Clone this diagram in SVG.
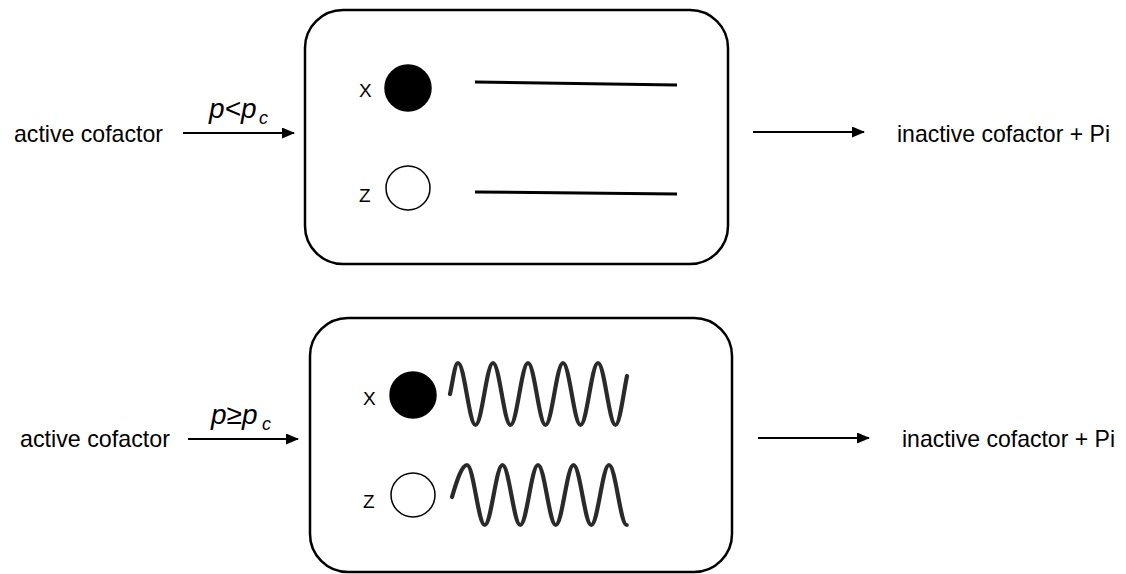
<svg xmlns="http://www.w3.org/2000/svg" width="1126" height="574" viewBox="0 0 1126 574">
<style>
.t{font-family:"Liberation Sans",Arial,sans-serif;font-size:24px;fill:#000}
.lb{font-family:"Liberation Sans",Arial,sans-serif;font-size:19px;fill:#000}
.m{font-family:"Liberation Sans",Arial,sans-serif;font-style:italic;font-size:28px;fill:#000}
.ms{font-family:"Liberation Sans",Arial,sans-serif;font-style:italic;font-size:18px;fill:#000}
.box{fill:#fff;stroke:#000;stroke-width:2.5}
.ar{stroke:#000;stroke-width:2;fill:none;marker-end:url(#ah)}
.wave{fill:none;stroke:#2a2a2a;stroke-width:4.2;stroke-linecap:round}
.ln{stroke:#000;stroke-width:3}
</style>
<defs>
<marker id="ah" markerWidth="13" markerHeight="11" refX="12" refY="5.5" orient="auto" markerUnits="userSpaceOnUse">
<path d="M0,0 L13,5.5 L0,11 Z" fill="#000"/>
</marker>
</defs>
<g id="box1">
<rect class="box" x="305" y="10" width="423" height="254" rx="38" ry="38"/>
<text class="lb" x="359" y="97">X</text>
<circle cx="408" cy="88" r="23" fill="#000" stroke="#000" stroke-width="1.5"/>
<text class="lb" x="359" y="202">Z</text>
<circle cx="408" cy="188" r="22" fill="#fff" stroke="#000" stroke-width="1.5"/>
<line class="ln" x1="475" y1="82" x2="677" y2="85"/>
<line class="ln" x1="475" y1="192" x2="677" y2="194"/>
</g>
<g id="box2">
<rect class="box" x="310" y="318" width="422" height="254" rx="38" ry="38"/>
<text class="lb" x="363" y="405">X</text>
<circle cx="413" cy="395" r="23" fill="#000" stroke="#000" stroke-width="1.5"/>
<text class="lb" x="363" y="508">Z</text>
<circle cx="413" cy="495" r="22" fill="#fff" stroke="#000" stroke-width="1.5"/>
<path class="wave" d="M450,394 C453,380 455,363 458,363 C464.4,363 469.1,425 475.5,425 C481.9,425 486.6,363 493,363 C499.4,363 504.1,425 510.5,425 C516.9,425 521.6,363 528,363 C534.4,363 539.1,425 545.5,425 C551.9,425 556.6,363 563,363 C569.4,363 574.1,425 580.5,425 C586.9,425 591.6,363 598,363 C604.4,363 609.1,425 615.5,425 C619.5,425 623,396 627,376"/>
<path class="wave" d="M452,497 C457,480 462,465 467,465 C473.5,465 478.3,525 484.75,525 C491.2,525 496,465 502.5,465 C509,465 513.8,525 520.25,525 C526.7,525 531.5,465 538,465 C544.5,465 549.3,525 555.75,525 C562.2,525 567,465 573.5,465 C580,465 584.8,525 591.25,525 C597.7,525 602.5,465 609,465 C615.5,465 620.3,525 626.75,525"/>
</g>
<g id="left1">
<text class="t" x="14" y="142" textLength="149" lengthAdjust="spacingAndGlyphs">active cofactor</text>
<text class="m" x="209" y="118">p&lt;p</text>
<text class="ms" x="259" y="124">c</text>
</g>
<g id="right1">
<text class="t" x="897" y="142" textLength="213" lengthAdjust="spacingAndGlyphs">inactive cofactor + Pi</text>
</g>
<g id="left2">
<text class="t" x="20" y="447" textLength="150" lengthAdjust="spacingAndGlyphs">active cofactor</text>
<text class="m" x="211" y="424">p≥p</text>
<text class="ms" x="262" y="430">c</text>
</g>
<g id="right2">
<text class="t" x="902" y="447" textLength="213" lengthAdjust="spacingAndGlyphs">inactive cofactor + Pi</text>
</g>
<g id="connectors">
<line class="ar" x1="183" y1="133" x2="294" y2="133"/>
<line class="ar" x1="753" y1="132" x2="864" y2="132"/>
<line class="ar" x1="188" y1="439" x2="298" y2="439"/>
<line class="ar" x1="758" y1="438" x2="869" y2="438"/>
</g>
</svg>
